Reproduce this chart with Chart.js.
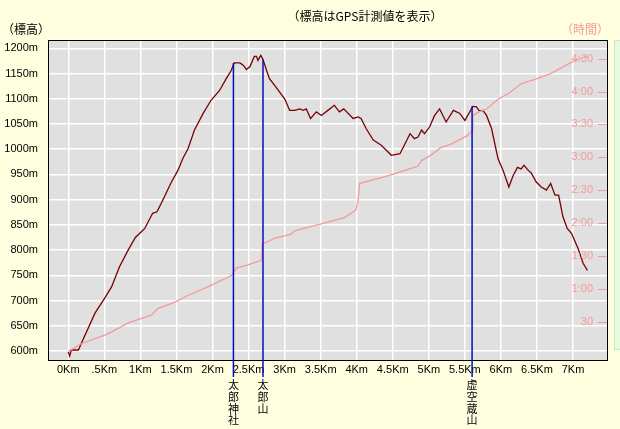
<!DOCTYPE html>
<html>
<head>
<meta charset="utf-8">
<script src="https://cdn.jsdelivr.net/npm/chart.js@4/dist/chart.umd.min.js"></script>
<style>
  html, body { margin: 0; padding: 0; background: #FFFFE0; }
  canvas { display: block; }
</style>
</head>
<body>
<canvas id="profile" width="620" height="429"></canvas>
<script>
// ---------------- DATA ----------------
// elevation profile (km, m)
const elevKm = [0, 0.02, 0.04, 0.14, 0.18, 0.37, 0.50, 0.60, 0.71, 0.83, 0.93, 1.01, 1.06, 1.17, 1.23, 1.31, 1.43, 1.52, 1.59, 1.66,
    1.75, 1.87, 1.98, 2.10, 2.19, 2.26, 2.30, 2.38, 2.43, 2.47, 2.52, 2.58, 2.61, 2.63, 2.67, 2.70, 2.75, 2.79, 2.88, 3.00,
    3.07, 3.14, 3.21, 3.26, 3.30, 3.36, 3.44, 3.51, 3.60, 3.69, 3.76, 3.82, 3.95, 4.02, 4.06, 4.13, 4.23, 4.34, 4.41, 4.48,
    4.60, 4.67, 4.74, 4.80, 4.85, 4.90, 4.94, 5.01, 5.08, 5.15, 5.24, 5.34, 5.43, 5.50, 5.54, 5.61, 5.66, 5.70, 5.75, 5.80,
    5.87, 5.96, 6.03, 6.11, 6.17, 6.23, 6.28, 6.32, 6.38, 6.42, 6.49, 6.56, 6.63, 6.69, 6.75, 6.80, 6.86, 6.92, 6.98, 7.07,
    7.14, 7.20];
const elevM = [598, 590, 602, 602, 615, 675, 704, 727, 767, 800, 825, 836, 843, 873, 876, 899, 935, 958, 982, 1001,
    1038, 1071, 1097, 1117, 1140, 1156, 1171, 1171, 1166, 1158, 1164, 1184, 1184, 1176, 1186, 1178, 1156, 1140, 1123, 1100,
    1077, 1077, 1080, 1077, 1080, 1061, 1074, 1067, 1077, 1087, 1074, 1080, 1061, 1064, 1061, 1041, 1018, 1008, 998, 988,
    991, 1011, 1031, 1021, 1024, 1038, 1031, 1044, 1067, 1080, 1054, 1077, 1071, 1057, 1067, 1085, 1084, 1076, 1077, 1067,
    1041, 981, 958, 925, 948, 964, 961, 968, 958, 953, 935, 925, 919, 932, 909, 909, 866, 843, 833, 803,
    774, 760];

// elapsed time (km, minutes)
const timeKm = [0, 0.18, 0.55, 0.83, 1.15, 1.24, 1.48, 1.66, 1.94, 2.26, 2.33, 2.49, 2.68, 2.69, 2.86, 3.09, 3.14, 3.32, 3.60,
    3.83, 3.99, 4.02, 4.04, 4.20, 4.43, 4.67, 4.85, 4.90, 5.03, 5.17, 5.31, 5.54, 5.60, 5.61, 5.68, 5.80, 5.96, 6.10,
    6.28, 6.47, 6.68, 6.79, 6.93, 7.02, 7.14, 7.20];
const timeMin = [3, 10, 19, 29, 36, 42, 48, 54, 62, 72, 79, 82, 86, 101, 106, 110, 113, 116, 121,
    125, 132, 141, 156, 159, 163, 168, 172, 177, 182, 189, 192, 200, 204, 218, 221, 224, 233, 238,
    247, 251, 256, 260, 265, 268, 271, 272];

// named points
const markerKm = [2.29, 2.70, 5.60];
const markerElev = [1171, 1178, 1085];
const markerNames = ["太郎神社", "太郎山", "虚空蔵山"];

// ticks
const xTickVals = [0, 0.5, 1, 1.5, 2, 2.5, 3, 3.5, 4, 4.5, 5, 5.5, 6, 6.5, 7];
const xTickLabels = ["0Km", ".5Km", "1Km", "1.5Km", "2Km", "2.5Km", "3Km", "3.5Km", "4Km", "4.5Km", "5Km", "5.5Km", "6Km", "6.5Km", "7Km"];
const elevTickVals = [600, 650, 700, 750, 800, 850, 900, 950, 1000, 1050, 1100, 1150, 1200];
const timeTickVals = [30, 60, 90, 120, 150, 180, 210, 240, 270];
const timeTickLabels = ["30", "1:00", "1:30", "2:00", "2:30", "3:00", "3:30", "4:00", "4:30"];

// ---------------- STYLE ----------------
const PAGE_BG = "#FFFFE0";
const PLOT_BG = "#E0E0E0";
const PINK = "#F39A9A";
const JP = "'Noto Sans CJK JP', sans-serif";

Chart.defaults.font.family = "'Liberation Sans', Arial, sans-serif";
Chart.defaults.font.size = 11;
Chart.defaults.color = "#000";

// ---------------- PLUGIN ----------------
const decorPlugin = {
    id: "decor",
    beforeDraw(chart) {
        const { ctx, chartArea: a } = chart;
        ctx.save();
        ctx.fillStyle = PAGE_BG;
        ctx.fillRect(0, 0, chart.width, chart.height);
        ctx.fillStyle = PLOT_BG;
        ctx.fillRect(a.left, a.top, a.right - a.left, a.bottom - a.top);

        // green strip at the right edge
        ctx.fillStyle = "#E6FBE0";
        ctx.fillRect(614, a.top, 6, a.bottom - a.top - 10);
        ctx.strokeStyle = "#C8E8C0";
        ctx.lineWidth = 1;
        ctx.strokeRect(614.5, a.top + 0.5, 8, a.bottom - a.top - 11);
        ctx.restore();
    },
    afterDraw(chart) {
        const { ctx, chartArea: a } = chart;
        const xs = chart.scales.x, ys = chart.scales.y, ts = chart.scales.y2;
        ctx.save();

        // plot border
        ctx.strokeStyle = "#000";
        ctx.lineWidth = 1;
        ctx.strokeRect(a.left + 0.5, a.top + 0.5, a.right - a.left - 1, a.bottom - a.top);

        // right time labels with dashes
        ctx.fillStyle = PINK;
        ctx.strokeStyle = PINK;
        ctx.font = "11px 'Liberation Sans', Arial, sans-serif";
        ctx.textAlign = "right";
        ctx.textBaseline = "middle";
        timeTickVals.forEach((v, i) => {
            const y = ts.getPixelForValue(v);
            ctx.fillText(timeTickLabels[i], a.right - 15, y);
            ctx.beginPath();
            ctx.moveTo(a.right - 10, Math.round(y) + 0.5);
            ctx.lineTo(a.right - 1, Math.round(y) + 0.5);
            ctx.stroke();
        });

        // named points: blue lines and vertical labels
        ctx.strokeStyle = "#0010C0";
        ctx.lineWidth = 1.5;
        ctx.fillStyle = "#000";
        ctx.font = "11px " + JP;
        ctx.textAlign = "center";
        markerKm.forEach((km, i) => {
            const x = xs.getPixelForValue(km);
            const top = ys.getPixelForValue(markerElev[i]);
            ctx.beginPath();
            ctx.moveTo(x, top);
            ctx.lineTo(x, a.bottom + 17);
            ctx.stroke();
            [...markerNames[i]].forEach((ch, j) => {
                ctx.fillText(ch, x, a.bottom + 25 + j * 11.7);
            });
        });

        // titles
        ctx.font = "12px " + JP;
        ctx.textAlign = "center";
        ctx.fillStyle = "#000";
        ctx.fillText("（標高はGPS計測値を表示）", 365, 16);
        ctx.textAlign = "left";
        ctx.fillText("（標高）", 2, 29);
        ctx.fillStyle = PINK;
        ctx.textAlign = "right";
        ctx.fillText("（時間）", 609, 29);
        ctx.restore();
    }
};

// ---------------- CHART ----------------
const elevPoints = elevKm.map((km, i) => ({ x: km, y: elevM[i] }));
const timePoints = timeKm.map((km, i) => ({ x: km, y: timeMin[i] }));

new Chart(document.getElementById("profile"), {
    type: "line",
    data: {
        datasets: [
            {
                label: "time",
                data: timePoints,
                yAxisID: "y2",
                borderColor: PINK,
                borderWidth: 1.3,
                pointRadius: 0,
                tension: 0
            },
            {
                label: "elevation",
                data: elevPoints,
                yAxisID: "y",
                borderColor: "#7A0000",
                borderWidth: 1.3,
                pointRadius: 0,
                tension: 0
            }
        ]
    },
    options: {
        responsive: false,
        devicePixelRatio: 1,
        animation: false,
        layout: { padding: { top: 40, left: 0, right: 0, bottom: 0 } },
        plugins: { legend: { display: false }, tooltip: { enabled: false } },
        scales: {
            x: {
                type: "linear",
                min: -0.2816,
                max: 7.485,
                afterBuildTicks: s => { s.ticks = xTickVals.map(v => ({ value: v })); },
                afterFit: s => { s.height = 69; },
                ticks: {
                    callback: (v) => xTickLabels[xTickVals.indexOf(v)],
                    padding: 3,
                    maxRotation: 0,
                    autoSkip: false
                },
                grid: { color: "#FFFFFF", lineWidth: 1.5, drawTicks: false },
                border: { display: false }
            },
            y: {
                position: "left",
                min: 582.2,
                max: 1216.5,
                afterBuildTicks: s => { s.ticks = elevTickVals.map(v => ({ value: v })); },
                afterFit: s => { s.width = 48; },
                ticks: { callback: v => v + "m", padding: 10 },
                grid: { color: "#FFFFFF", lineWidth: 1.5, drawTicks: false },
                border: { display: false }
            },
            y2: {
                position: "right",
                min: -4.83,
                max: 286.96,
                afterFit: s => { s.width = 12; },
                ticks: { display: false },
                grid: { display: false },
                border: { display: false }
            }
        }
    },
    plugins: [decorPlugin]
});
</script>
</body>
</html>
